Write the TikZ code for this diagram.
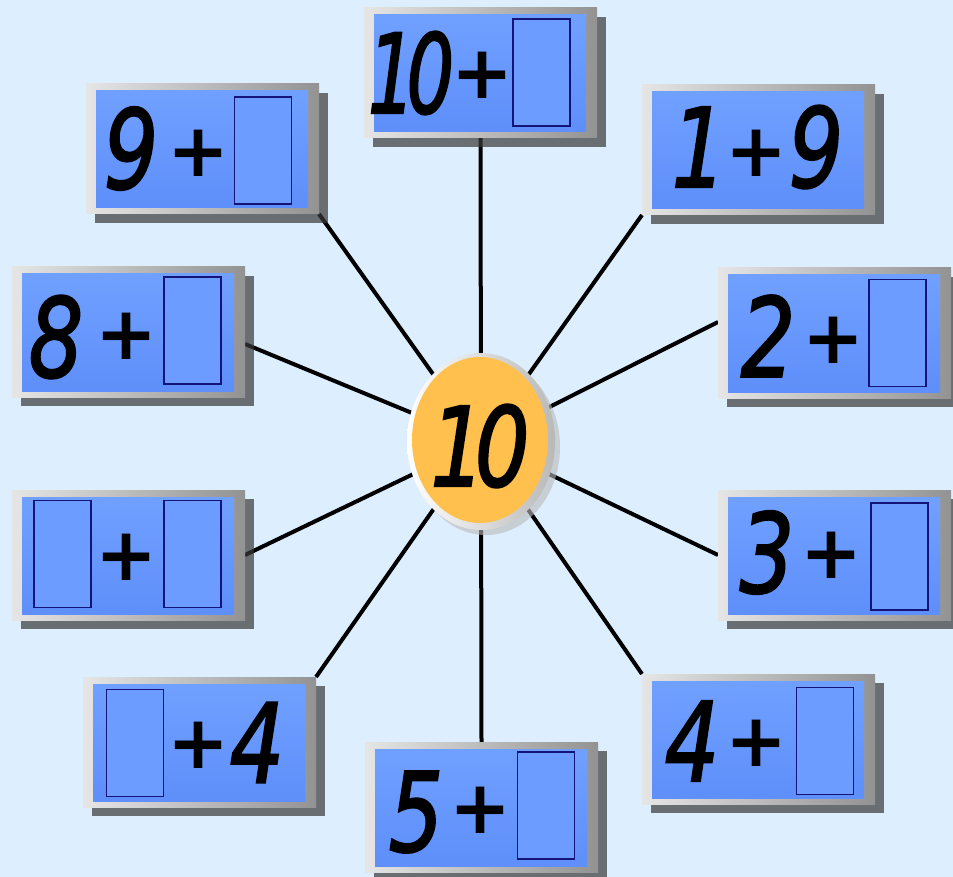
\documentclass[tikz,border=0pt]{standalone}
\usepackage{fontspec}
\newfontfamily\hand{DejaVu Sans}[ItalicFeatures={FakeBold=2}]
\usetikzlibrary{shapes.geometric,backgrounds,calc}
\definecolor{bgc}{RGB}{221,238,254}
\definecolor{blueT}{RGB}{112,160,255}
\definecolor{blueB}{RGB}{94,143,250}
\definecolor{slotc}{RGB}{108,156,255}
\definecolor{navy}{RGB}{20,20,120}
\definecolor{orangec}{RGB}{255,192,78}
\newcommand\dg[1]{\scalebox{0.78}[1]{#1}}
\newcommand\panel[3]{%
  \fill[gray!45!black,opacity=0.7] (#2+9,#3+9) rectangle +(233,130);
  \node[frame,anchor=north west] (#1) at (#2,#3) {};
  \fill[top color=blueT,bottom color=blueB] (#2+10,#3+7) rectangle (#2+222,#3+124);
}
\tikzset{
  frame/.style={minimum width=233pt,minimum height=130pt,inner sep=0pt,outer sep=0pt,
    left color=gray!20,right color=gray!85},
  slot/.style={draw=navy,line width=1.3pt,fill=slotc,minimum width=57pt,minimum height=107pt,inner sep=0pt},
  digit/.style={font=\hand\itshape\fontsize{110}{110}\selectfont,inner sep=0pt},
  plus/.style={font=\hand\bfseries\fontsize{74}{74}\selectfont,inner sep=0pt},
  spoke/.style={line width=4pt,black},
}
\begin{document}
\begin{tikzpicture}[x=1pt,y=-1pt]
\useasboundingbox (0,0) rectangle (953,877);
% panels
\panel{b10}{364}{8}
\panel{b9}{86}{84}
\panel{b1}{642}{85}
\panel{b8}{12}{267}
\panel{b2}{718}{268}
\panel{bl}{12}{490}
\panel{b3}{718}{490}
\panel{b4l}{83}{677}
\panel{b4}{642}{674}
\panel{b5}{365}{742}
% slots
\node[slot] (s10) at (541.5,72.5) {};
\node[slot] (s9) at (263,150.5) {};
\node[slot] (s8) at (192.5,330.5) {};
\node[slot] (s2) at (897.5,333) {};
\node[slot] (sla) at (62.5,554) {};
\node[slot] (slb) at (192.5,554) {};
\node[slot] (s3) at (899.5,556.5) {};
\node[slot] (s4l) at (135,743) {};
\node[slot] (s4) at (825,741) {};
\node[slot] (s5) at (546,805.5) {};
% texts
\node[digit] (t10a) at (411,73) {\scalebox{0.68}[1]{1\kern-0.12em 0}};
\node[plus] (t10p) at (482,75) {+};
\node[digit] (t9a) at (131,148.5) {\dg{9}};
\node[plus] (t9p) at (198.5,153) {+};
\node[digit] (t1a) at (699,147) {\dg{1}};
\node[plus] (t1p) at (756.5,153) {+};
\node[digit] (t1b) at (816,147) {\dg{9}};
\node[digit] (t8a) at (56,337) {\dg{8}};
\node[plus] (t8p) at (126.5,336.7) {+};
\node[digit] (t2a) at (768,336) {\dg{2}};
\node[plus] (t2p) at (833.5,340) {+};
\node[plus] (tlp) at (126.5,557.5) {+};
\node[digit] (t3a) at (767,552.5) {\dg{3}};
\node[plus] (t3p) at (831.5,555) {+};
\node[plus] (t4lp) at (198.5,745) {+};
\node[digit] (t4lb) at (257,742.5) {\dg{4}};
\node[digit] (t4a) at (692,741) {\dg{4}};
\node[plus] (t4p) at (756.5,743) {+};
\node[digit] (t5a) at (416,812) {\dg{5}};
\node[plus] (t5p) at (480,810) {+};
% centre
\fill[gray!55,opacity=0.6] (486,447) ellipse (74 and 88);
\node[ellipse,minimum width=148pt,minimum height=177pt,inner sep=0pt,
  left color=white,right color=gray!55] (c) at (481,441.5) {};
\node[ellipse,minimum width=136pt,minimum height=166pt,inner sep=0pt,fill=orangec] (ci) at (480,440) {};
\node[digit] (tc) at (480,446) {\dg{1\kern-0.12em 0}};
% spokes behind
\begin{pgfonlayer}{background}
\fill[bgc] (0,0) rectangle (953,877);
\draw[spoke] (c.center) -- (b10.south);
\draw[spoke] (c.center) -- (b5.north);
\draw[spoke] (c.center) -- (b9.south east);
\draw[spoke] (c.center) -- (b1.south west);
\draw[spoke] (c.center) -- ($(b8.east)+(0,12)$);
\draw[spoke] (c.center) -- ($(b2.west)+(0,-11)$);
\draw[spoke] (c.center) -- (bl.east);
\draw[spoke] (c.center) -- (b3.west);
\draw[spoke] (c.center) -- (b4l.north east);
\draw[spoke] (c.center) -- (b4.north west);
\end{pgfonlayer}
\end{tikzpicture}
\end{document}
